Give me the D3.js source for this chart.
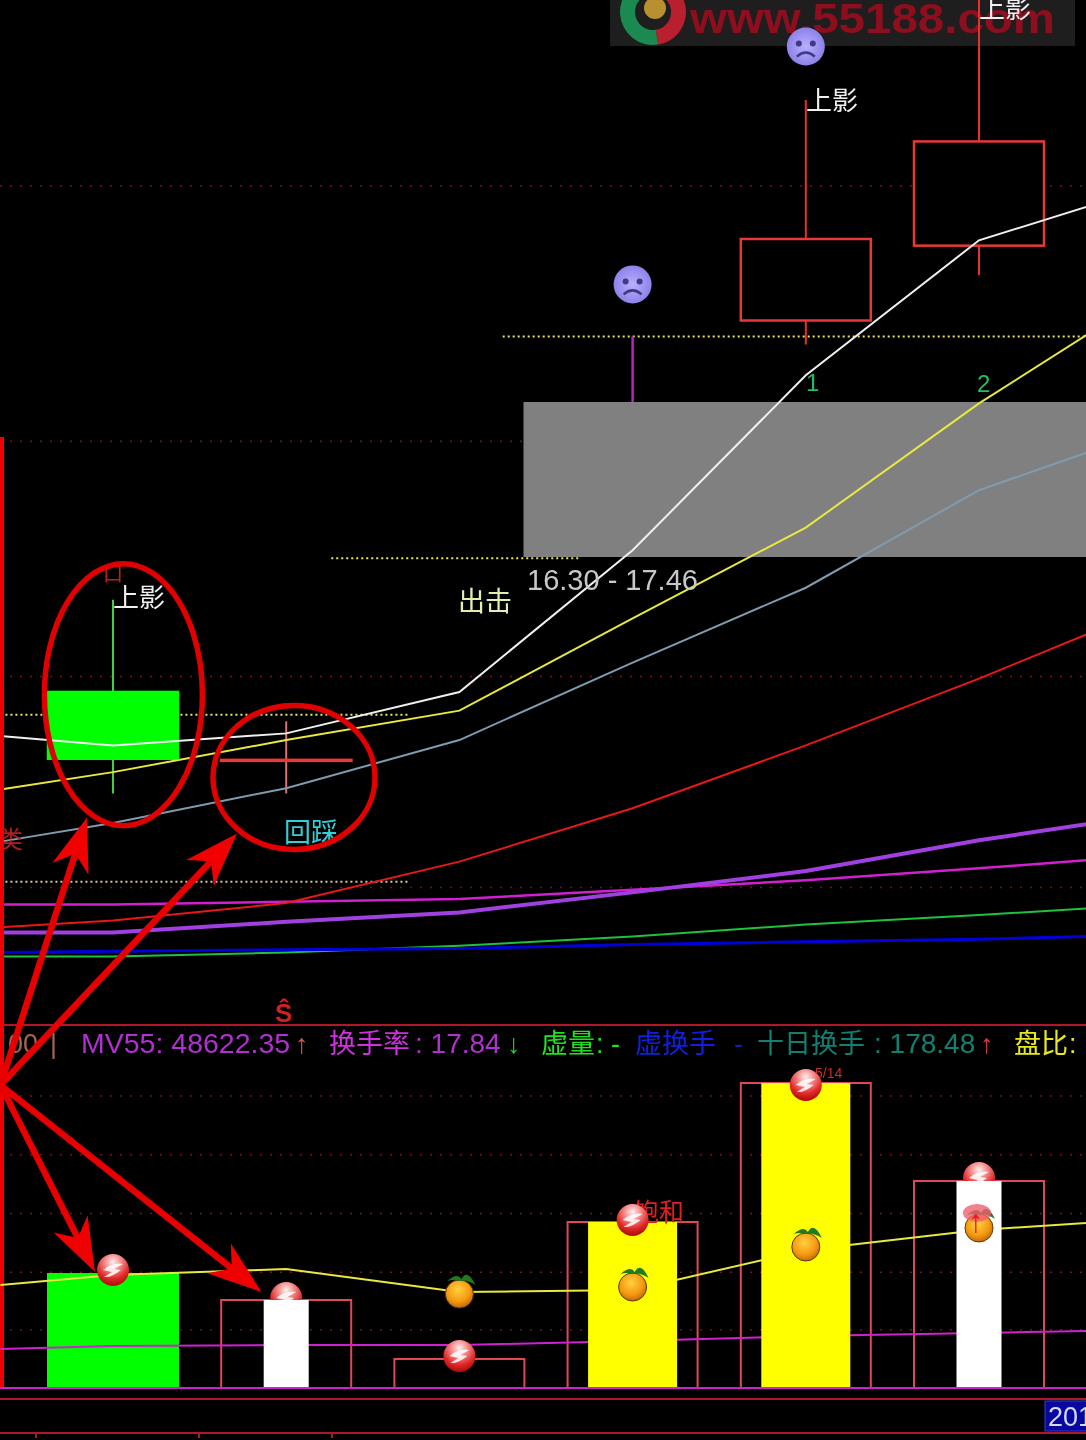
<!DOCTYPE html>
<html>
  <head>
    <meta charset="utf-8" />
    <title>K线 回踩</title>
    <style>
      html,
      body {
        margin: 0;
        background: #000;
      }
      #svg {
        display: block;
        filter: blur(0.5px);
      }
      text {
        font-family: 'Noto Sans CJK SC', 'Liberation Sans', sans-serif;
      }
      .num {
        font-family: 'Liberation Sans', sans-serif;
      }
    </style>
  </head>
  <body>
    <svg id="svg" width="1086" height="1440"></svg>
    <script src="https://cdn.jsdelivr.net/npm/d3@7"></script>
    <script>
      const width = 1086;
      const height = 1440;

      // bar index, -0.65 and 5.62 are the left and right window edges
      const lineIndex = [-0.65, 0, 1, 2, 3, 4, 5, 5.62];

      // price panel moving averages
      const maWhite = [14.96, 14.89, 14.98, 15.29, 16.35, 17.66, 18.67, 18.92];
      const maYellow = [14.56, 14.69, 14.93, 15.15, 15.84, 16.52, 17.45, 17.96];
      const maSteel = [14.17, 14.31, 14.57, 14.93, 15.51, 16.07, 16.8, 17.08];
      const maRed = [13.53, 13.58, 13.71, 14.02, 14.42, 14.89, 15.39, 15.72];
      const maPink = [13.7, 13.7, 13.72, 13.74, 13.81, 13.88, 13.97, 14.03];
      const maPurple = [13.49, 13.49, 13.57, 13.64, 13.79, 13.95, 14.18, 14.3];
      const maGreen = [13.31, 13.31, 13.34, 13.39, 13.46, 13.55, 13.62, 13.67];
      const maBlue = [13.34, 13.35, 13.36, 13.37, 13.4, 13.42, 13.44, 13.46];

      // candles, bar 2 has none and bar 3 is only a wick over the grey box
      const candleIndex = [0, 1, 4, 5];
      const candleOpen = [15.29, 14.78, 18.07, 18.63];
      const candleClose = [14.79, 14.78, 18.68, 19.41];
      const candleHigh = [15.98, 15.07, 19.72, 20.48];
      const candleLow = [14.53, 14.53, 17.89, 18.41];
      const wickIndex = 3;
      const wickTop = 17.95;
      const wickBottom = 17.46;

      const zoneLow = 16.3;
      const zoneHigh = 17.46;
      const zoneStart = 2.37;

      const priceGrid = [19.08, 17.17, 15.41, 13.83];
      const volumeGrid = [51000, 101000, 152000, 203000, 254000];

      const dottedPrice = [17.95, 16.29, 15.12, 13.87];
      const dottedFrom = [2.25, 1.26, -0.65, -0.65];
      const dottedTo = [5.62, 2.7, 1.7, 1.7];

      // volume panel
      const volumeIndex = [0, 1, 2, 3, 4, 5];
      const volume = [99850, 76400, 25180, 144130, 264800, 179730];
      const volumeKind = ['green', 'white', 'none', 'yellow', 'yellow', 'white'];
      const mvYellow = [89430, 98110, 103320, 83350, 85090, 119820, 137180, 143260];
      const mvPink = [33860, 36470, 37330, 37330, 40810, 45150, 47750, 49490];

      const ballIndex = [0, 1, 2, 3, 4, 5];
      const ballVolume = [102450, 78140, 27780, 145870, 263080, 182330];
      const appleIndex = [2, 3, 4, 5];
      const appleVolume = [83350, 89430, 124160, 140660];
      const faceIndex = [3, 4];
      const facePrice = [18.34, 20.12];

      const x = d3.scaleLinear().domain([0, 5]).range([113, 979]);
      const yPrice = d3.scaleLinear().domain([zoneLow, zoneHigh]).range([557, 402]);
      const yVolume = d3.scaleLinear().domain([0, 48622.35]).range([1388, 1332]);

      const kindStyle = {
        green: { fill: '#00ff00', w: 132 },
        white: { fill: '#ffffff', w: 45 },
        yellow: { fill: '#ffff00', w: 89 },
      };
      const boxWidth = 130;

      const svg = d3.select('#svg');
      svg.append('rect').attr('width', width).attr('height', height).attr('fill', '#000');

      // gradients for the little icons
      const defs = svg.append('defs');
      const radial = (id, stops, cx, cy) => {
        const g = defs
          .append('radialGradient')
          .attr('id', id)
          .attr('cx', cx)
          .attr('cy', cy)
          .attr('r', '0.7');
        stops.forEach((s) => g.append('stop').attr('offset', s[0]).attr('stop-color', s[1]));
      };
      radial('ball', [[0, '#fff0f0'], [0.35, '#f49090'], [0.75, '#e02828'], [1, '#b81010']], '0.5', '0.25');
      radial('apple', [[0, '#ffd040'], [0.6, '#f59a10'], [1, '#b86008']], '0.45', '0.35');
      radial('face', [[0, '#b8b0ff'], [1, '#7c70e0']], '0.5', '0.5');

      // watermark at the top
      const mark = svg.append('g');
      mark.append('rect').attr('x', 610).attr('y', 0).attr('width', 465).attr('height', 46).attr('fill', '#1e1e1e');
      const logoArc = d3.arc().innerRadius(18).outerRadius(33);
      mark
        .append('path')
        .attr('transform', 'translate(653,12)')
        .attr('d', logoArc({ startAngle: Math.PI * 0.95, endAngle: Math.PI * 2 }))
        .attr('fill', '#1a8a50');
      mark
        .append('path')
        .attr('transform', 'translate(653,12)')
        .attr('d', logoArc({ startAngle: 0, endAngle: Math.PI * 0.95 }))
        .attr('fill', '#b82030');
      mark.append('circle').attr('cx', 655).attr('cy', 8).attr('r', 11).attr('fill', '#b89030');
      mark
        .append('text')
        .attr('class', 'num')
        .attr('x', 690)
        .attr('y', 33)
        .attr('textLength', 365)
        .attr('lengthAdjust', 'spacingAndGlyphs')
        .attr('font-size', 42)
        .attr('font-weight', 700)
        .attr('fill', '#8e0e1e')
        .text('www.55188.com');

      // dotted grid from the axes
      const gridStyle = (g) => {
        g.select('.domain').remove();
        g.selectAll('line')
          .attr('stroke', '#7a1018')
          .attr('stroke-width', 1.5)
          .attr('stroke-dasharray', '2 8');
      };
      svg
        .append('g')
        .call(d3.axisRight(yPrice).tickValues(priceGrid).tickSize(width).tickFormat(''))
        .call(gridStyle);
      svg
        .append('g')
        .call(d3.axisRight(yVolume).tickValues(volumeGrid).tickSize(width).tickFormat(''))
        .call(gridStyle);

      // grey target zone
      svg
        .append('rect')
        .attr('x', x(zoneStart))
        .attr('y', yPrice(zoneHigh))
        .attr('width', width - x(zoneStart))
        .attr('height', yPrice(zoneLow) - yPrice(zoneHigh))
        .attr('fill', '#808080');

      // dotted yellow levels
      svg
        .append('g')
        .selectAll('line')
        .data(dottedPrice)
        .join('line')
        .attr('x1', (d, i) => x(dottedFrom[i]))
        .attr('x2', (d, i) => x(dottedTo[i]))
        .attr('y1', (d) => yPrice(d))
        .attr('y2', (d) => yPrice(d))
        .attr('stroke', (d, i) => (i === 3 ? '#d8c8a0' : '#e8e860'))
        .attr('stroke-width', 2)
        .attr('stroke-dasharray', '2 3');

      // candle wicks
      svg
        .append('g')
        .selectAll('line')
        .data(candleIndex)
        .join('line')
        .attr('x1', (d) => x(d))
        .attr('x2', (d) => x(d))
        .attr('y1', (d, i) => yPrice(candleHigh[i]))
        .attr('y2', (d, i) => yPrice(candleLow[i]))
        .attr('stroke', (d, i) => (i === 0 ? '#40d040' : i === 1 ? '#e07070' : '#e83030'))
        .attr('stroke-width', 2);
      svg
        .append('line')
        .attr('x1', x(wickIndex))
        .attr('x2', x(wickIndex))
        .attr('y1', yPrice(wickTop))
        .attr('y2', yPrice(wickBottom))
        .attr('stroke', '#c020c0')
        .attr('stroke-width', 2.5);

      // candle bodies, the doji has no height so it gets a sliver
      svg
        .append('g')
        .selectAll('rect')
        .data(candleIndex)
        .join('rect')
        .attr('x', (d) => x(d) - boxWidth / 2)
        .attr('width', boxWidth)
        .attr('y', (d, i) => yPrice(Math.max(candleOpen[i], candleClose[i])))
        .attr('height', (d, i) => Math.max(0.5, Math.abs(yPrice(candleOpen[i]) - yPrice(candleClose[i]))))
        .attr('fill', (d, i) => (i === 0 ? '#00ff00' : '#000'))
        .attr('stroke', (d, i) => (i === 0 ? '#00ff00' : '#e83838'))
        .attr('stroke-width', (d, i) => (i === 1 ? 3 : 2.5));

      // moving averages
      const priceLine = d3
        .line()
        .x((d, i) => x(lineIndex[i]))
        .y((d) => yPrice(d));
      const drawMa = (values, color, w) =>
        svg
          .append('path')
          .attr('d', priceLine(values))
          .attr('fill', 'none')
          .attr('stroke', color)
          .attr('stroke-width', w);
      drawMa(maGreen, '#20c040', 2);
      drawMa(maBlue, '#0000d8', 3);
      drawMa(maPink, '#d020d0', 2.5);
      drawMa(maPurple, '#a040e0', 4);
      drawMa(maRed, '#e81818', 2);
      drawMa(maSteel, '#7f9bb0', 2);
      drawMa(maYellow, '#e8e840', 2);
      drawMa(maWhite, '#f0f0f0', 2);

      // labels in the price panel
      const label = (tx, ty, txt, color, size, cls) =>
        svg
          .append('text')
          .attr('class', cls || null)
          .attr('x', tx)
          .attr('y', ty)
          .attr('font-size', size)
          .attr('fill', color)
          .text(txt);
      label(113, 607, '上影', '#f0f0f0', 26);
      label(806, 110, '上影', '#f0f0f0', 26);
      label(979, 18, '上影', '#f0f0f0', 26);
      label(458, 611, '出击', '#e0f0b0', 27);
      label(284, 842, '回踩', '#30d0d8', 27);
      label(527, 590, '16.30 - 17.46', '#c8c8c8', 29, 'num');
      label(806, 391, '1', '#20c060', 24, 'num');
      label(977, 392, '2', '#20c060', 24, 'num');
      label(103, 581, '口', '#c02020', 20);
      label(-1, 848, '类', '#b02020', 24);

      // purple faces
      const faces = svg
        .append('g')
        .selectAll('g')
        .data(faceIndex)
        .join('g')
        .attr('transform', (d, i) => `translate(${x(d)},${yPrice(facePrice[i])})`);
      faces.append('circle').attr('r', 19).attr('fill', 'url(#face)');
      faces.append('circle').attr('cx', -7).attr('cy', -3).attr('r', 3).attr('fill', '#403a80');
      faces.append('circle').attr('cx', 7).attr('cy', -3).attr('r', 3).attr('fill', '#403a80');
      faces
        .append('path')
        .attr('d', 'M-9,10 Q0,2 9,10')
        .attr('fill', 'none')
        .attr('stroke', '#403a80')
        .attr('stroke-width', 2.5);

      // panel frame lines
      const frame = svg.append('g').attr('stroke', '#b01828').attr('stroke-width', 2);
      frame.append('line').attr('x1', 0).attr('x2', width).attr('y1', 1025).attr('y2', 1025);
      frame.append('line').attr('x1', 0).attr('x2', width).attr('y1', 1399).attr('y2', 1399);
      frame.append('line').attr('x1', 0).attr('x2', width).attr('y1', 1433).attr('y2', 1433);
      [36, 199, 332].forEach((t) =>
        frame.append('line').attr('x1', t).attr('x2', t).attr('y1', 1433).attr('y2', 1438)
      );
      svg
        .append('line')
        .attr('x1', 2)
        .attr('x2', 2)
        .attr('y1', 437)
        .attr('y2', 1388)
        .attr('stroke', '#f00000')
        .attr('stroke-width', 4);

      // legend row
      label(8, 1053, '00', '#a06850', 27, 'num');
      label(50, 1053, '|', '#a06850', 27, 'num');
      label(81, 1053, 'MV55: 48622.35', '#b030d0', 28.5, 'num');
      label(295, 1053, '↑', '#e05050', 27, 'num');
      label(329, 1053, '换手率', '#d030e0', 27);
      label(415, 1053, ': 17.84', '#b030d0', 28, 'num');
      label(507, 1053, '↓', '#20d030', 27, 'num');
      label(541, 1053, '虚量', '#20e020', 27);
      label(596, 1053, ': -', '#20e020', 27, 'num');
      label(635, 1053, '虚换手', '#1020e0', 27);
      label(734, 1053, '-', '#1020a0', 27, 'num');
      label(757, 1053, '十日换手', '#108070', 27);
      label(874, 1053, ': 178.48', '#108070', 28, 'num');
      label(980, 1053, '↑', '#e03838', 27, 'num');
      label(1014, 1053, '盘比', '#e8e820', 27);
      label(1069, 1053, ':', '#e8e820', 27, 'num');
      label(275, 1022, 'Ŝ', '#d02020', 26, 'num').attr('font-weight', 700);

      // hollow volume boxes and the green bar sit under the lines
      const boxes = svg.append('g');
      boxes
        .selectAll('rect')
        .data(volumeIndex.filter((d) => volumeKind[d] !== 'green'))
        .join('rect')
        .attr('x', (d) => x(d) - boxWidth / 2)
        .attr('width', boxWidth)
        .attr('y', (d) => yVolume(volume[d]))
        .attr('height', (d) => yVolume(0) - yVolume(volume[d]))
        .attr('fill', 'none')
        .attr('stroke', '#e04858')
        .attr('stroke-width', 2);
      const solidBar = (sel) =>
        sel
          .attr('x', (d) => x(d) - kindStyle[volumeKind[d]].w / 2)
          .attr('width', (d) => kindStyle[volumeKind[d]].w)
          .attr('y', (d) => yVolume(volume[d]))
          .attr('height', (d) => yVolume(0) - yVolume(volume[d]))
          .attr('fill', (d) => kindStyle[volumeKind[d]].fill);
      svg
        .append('g')
        .selectAll('rect')
        .data(volumeIndex.filter((d) => volumeKind[d] === 'green'))
        .join('rect')
        .call(solidBar);

      // balls that the white bars cover go first
      const drawBall = (parent, list) => {
        const b = parent
          .append('g')
          .selectAll('g')
          .data(list)
          .join('g')
          .attr('transform', (d) => `translate(${x(ballIndex[d])},${yVolume(ballVolume[d])})`);
        b.append('circle').attr('r', 16).attr('fill', 'url(#ball)');
        b.append('path')
          .attr('d', 'M-10,0 Q0,-8 10,-6 L1,-1 L8,0 Q-2,8 -9,7 L-1,2 Z')
          .attr('fill', '#fff')
          .attr('fill-opacity', 0.85);
      };
      drawBall(svg, [1, 5]);

      const volumeLine = d3
        .line()
        .x((d, i) => x(lineIndex[i]))
        .y((d) => yVolume(d));
      svg
        .append('path')
        .attr('d', volumeLine(mvPink))
        .attr('fill', 'none')
        .attr('stroke', '#d020d0')
        .attr('stroke-width', 2);
      svg
        .append('path')
        .attr('d', volumeLine(mvYellow))
        .attr('fill', 'none')
        .attr('stroke', '#e8e840')
        .attr('stroke-width', 2);

      svg
        .append('g')
        .selectAll('rect')
        .data(volumeIndex.filter((d) => volumeKind[d] === 'white' || volumeKind[d] === 'yellow'))
        .join('rect')
        .call(solidBar);

      // base line of the volume panel
      svg
        .append('line')
        .attr('x1', 0)
        .attr('x2', width)
        .attr('y1', yVolume(0))
        .attr('y2', yVolume(0))
        .attr('stroke', '#d020d0')
        .attr('stroke-width', 2);

      label(634, 1221, '饱和', '#e02020', 25);
      label(815, 1078, '5/14', '#d02830', 14, 'num');
      drawBall(svg, [0, 2, 3, 4]);

      // oranges
      const apples = svg
        .append('g')
        .selectAll('g')
        .data(appleIndex)
        .join('g')
        .attr('transform', (d, i) => `translate(${x(d)},${yVolume(appleVolume[i])})`);
      apples.append('circle').attr('cy', 2).attr('r', 14).attr('fill', 'url(#apple)').attr('stroke', '#603808');
      apples
        .append('path')
        .attr('d', 'M-12,-11 Q-2,-20 2,-13 Q8,-24 16,-7 Q7,-13 0,-11 Q-6,-13 -12,-11 Z')
        .attr('fill', '#207a20');

      // red tick over the last orange
      svg
        .append('ellipse')
        .attr('cx', x(5) - 2)
        .attr('cy', yVolume(152000))
        .attr('rx', 14)
        .attr('ry', 9)
        .attr('fill', '#f06070')
        .attr('fill-opacity', 0.8);
      label(968, 1232, '↑', '#e81818', 32, 'num').attr('font-weight', 700);

      // bottom right date box
      svg
        .append('rect')
        .attr('x', 1045)
        .attr('y', 1401)
        .attr('width', 42)
        .attr('height', 30)
        .attr('fill', '#0808a0')
        .attr('stroke', '#3040d0');
      label(1048, 1426, '201', '#d8d8ff', 27, 'num');

      // red ellipses, marking the two candles
      const ringIndex = [0.06, 1.045];
      const ringPrice = [15.27, 14.65];
      const ringRx = [79, 81];
      const ringRy = [131, 72];
      svg
        .append('g')
        .selectAll('ellipse')
        .data(ringIndex)
        .join('ellipse')
        .attr('cx', (d) => x(d))
        .attr('cy', (d, i) => yPrice(ringPrice[i]))
        .attr('rx', (d, i) => ringRx[i])
        .attr('ry', (d, i) => ringRy[i])
        .attr('fill', 'none')
        .attr('stroke', '#e00000')
        .attr('stroke-width', 5.5);

      // arrows from one point at the left edge
      const arrowStart = [x(-0.65), yVolume(263080)];
      const arrowTips = [
        [x(-0.15), yPrice(14.35)],
        [x(0.716), yPrice(14.23)],
        [x(-0.104), yVolume(100720)],
        [x(0.857), yVolume(83350)],
      ];
      const arrows = svg.append('g');
      arrowTips.forEach(([tx, ty]) => {
        const a = Math.atan2(ty - arrowStart[1], tx - arrowStart[0]);
        const at = (along, side) => [
          tx + along * Math.cos(a) - side * Math.sin(a),
          ty + along * Math.sin(a) + side * Math.cos(a),
        ];
        arrows
          .append('line')
          .attr('x1', arrowStart[0])
          .attr('y1', arrowStart[1])
          .attr('x2', at(-30, 0)[0])
          .attr('y2', at(-30, 0)[1])
          .attr('stroke', '#e80000')
          .attr('stroke-width', 6.5);
        arrows
          .append('path')
          .attr('d', d3.line()([at(0, 0), at(-54, 19), at(-38, 0), at(-54, -19)]) + 'Z')
          .attr('fill', '#f00000');
      });
    </script>
  </body>
</html>
